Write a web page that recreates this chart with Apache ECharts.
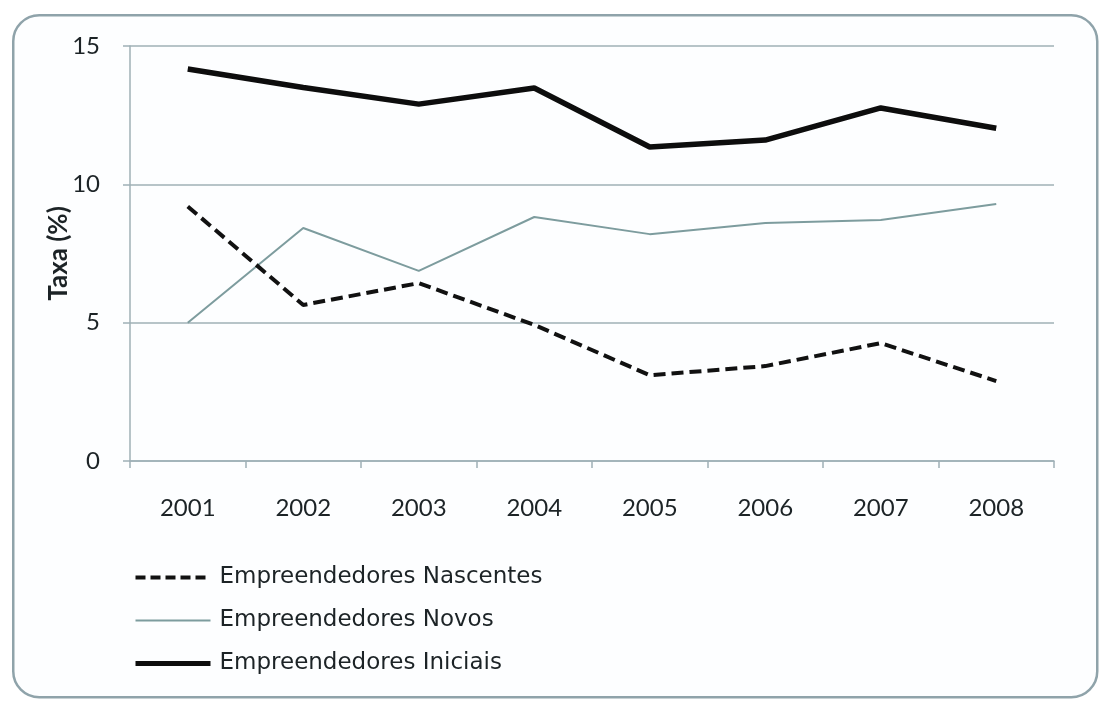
<!DOCTYPE html>
<html>
<head>
<meta charset="utf-8">
<script src="https://cdn.jsdelivr.net/npm/echarts@6/dist/echarts.min.js"></script>
<style>
  html, body { margin: 0; padding: 0; background: #ffffff; }
  #chart { width: 1100px; height: 707px; }
</style>
</head>
<body>
<div id="chart"></div>
<script>
// Taxas de empreendedorismo por ano (%)
const anos = ['2001', '2002', '2003', '2004', '2005', '2006', '2007', '2008'];
const nascentes = [9.2, 5.64, 6.43, 4.92, 3.1, 3.43, 4.26, 2.89];
const novos = [5.0, 8.42, 6.87, 8.82, 8.2, 8.6, 8.71, 9.29];
const iniciais = [14.17, 13.5, 12.9, 13.48, 11.35, 11.6, 12.76, 12.03];
const yTicks = [0, 5, 10, 15];

const FONT = 'Lato, "Open Sans", sans-serif';
const WIDE = '"DejaVu Sans", sans-serif';
const TEXT = '#1c2326';
const GRID = '#9fb0b6';

const NASC = { color: '#111111', width: 4, type: [12, 6] };
const NOVO = { color: '#7d9c9e', width: 2, type: 'solid' };
const INIC = { color: '#0d0d0d', width: 5.5, type: 'solid' };

const chart = echarts.init(document.getElementById('chart'), null, { renderer: 'canvas' });

chart.setOption({
  backgroundColor: '#ffffff',
  animation: false,
  graphic: [{
    type: 'rect',
    left: 12, top: 14,
    shape: { width: 1084, height: 682, r: 26 },
    style: { fill: '#fdfeff', stroke: '#8fa3aa', lineWidth: 2.5 },
    z: -10
  }],
  grid: { left: 130, right: 46, top: 46, bottom: 246 },
  legend: {
    orient: 'vertical',
    left: 133, top: 566,
    padding: 0,
    itemWidth: 75, itemHeight: 14,
    itemGap: 20,
    itemStyle: { opacity: 0 },
    textStyle: { fontFamily: WIDE, fontSize: 23, color: TEXT, padding: [0, 0, 0, 4] },
    data: [
      { name: 'Empreendedores Nascentes', lineStyle: { color: '#111111', width: 4, type: [10, 5] } },
      { name: 'Empreendedores Novos', lineStyle: { color: '#7d9c9e', width: 2 } },
      { name: 'Empreendedores Iniciais', lineStyle: { color: '#0d0d0d', width: 5 } }
    ]
  },
  xAxis: {
    type: 'category',
    data: anos,
    boundaryGap: true,
    axisLine: { lineStyle: { color: GRID, width: 1.5 } },
    axisTick: { show: true, length: 7, lineStyle: { color: GRID, width: 1.5 } },
    axisLabel: { fontFamily: FONT, fontSize: 24, color: TEXT, margin: 35 }
  },
  yAxis: {
    type: 'value',
    min: 0, max: 15, interval: 5,
    name: 'Taxa (%)',
    nameLocation: 'middle',
    nameGap: 58,
    nameMoveOverlap: false,
    nameTextStyle: { fontFamily: FONT, fontSize: 26, fontWeight: 'bold', color: TEXT },
    axisLine: { show: true, lineStyle: { color: GRID, width: 1.5 } },
    axisTick: { show: true, length: 7, lineStyle: { color: GRID, width: 1.5 } },
    axisLabel: {
      fontFamily: FONT, fontSize: 24, color: TEXT, margin: 30,
      formatter: v => (yTicks.includes(v) ? String(v) : '')
    },
    splitLine: { lineStyle: { color: GRID, width: 1.5 } }
  },
  series: [
    {
      name: 'Empreendedores Nascentes',
      type: 'line',
      data: nascentes,
      symbol: 'none',
      lineStyle: NASC,
      itemStyle: { color: NASC.color },
      z: 3
    },
    {
      name: 'Empreendedores Novos',
      type: 'line',
      data: novos,
      symbol: 'none',
      lineStyle: NOVO,
      itemStyle: { color: NOVO.color },
      z: 2
    },
    {
      name: 'Empreendedores Iniciais',
      type: 'line',
      data: iniciais,
      symbol: 'none',
      lineStyle: INIC,
      itemStyle: { color: INIC.color },
      z: 4
    }
  ]
});
</script>
</body>
</html>
